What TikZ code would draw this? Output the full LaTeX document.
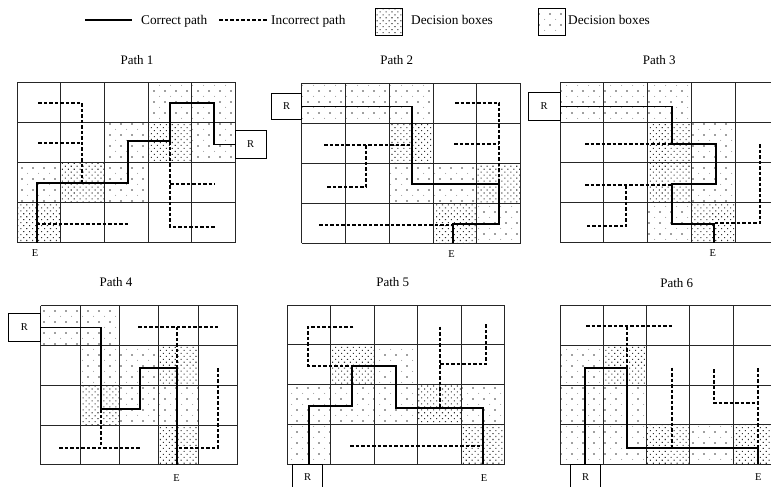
\documentclass[tikz,border=0pt]{standalone}
\usepackage{fontspec}
\setmainfont{Liberation Serif}
\usetikzlibrary{patterns,patterns.meta}
\tikzset{
  gridline/.style={draw=black!85,line width=1pt},
  sparse/.style={pattern={Dots[distance=11pt,radius=0.8pt]},pattern color=black!75,
    postaction={pattern={Dots[distance=11pt,radius=0.5pt,xshift=5.5pt,yshift=5.5pt]},pattern color=black!40}},
  dense/.style={pattern={Dots[distance=4.2pt,radius=0.75pt,angle=45]},pattern color=black!80},
  correct/.style={line width=1.8pt},
  wrong/.style={line width=1.7pt,dash pattern=on 3.5pt off 2pt},
  lbl/.style={font=\fontsize{10.5}{12}\selectfont,inner sep=0pt},
  ttl/.style={font=\fontsize{13}{15}\selectfont,inner sep=0pt},
  leg/.style={font=\fontsize{13.3}{15}\selectfont,inner sep=0pt},
  rbox/.style={draw,fill=white,line width=1pt,inner sep=0pt,font=\fontsize{10.5}{12}\selectfont},
}
\begin{document}
\begin{tikzpicture}[x=1pt,y=-1pt]
\useasboundingbox (0,0) rectangle (771,487);
\fill[white] (0,0) rectangle (771,487);
\clip (0,0) rectangle (771,487);

% ---------- legend ----------
\draw[correct] (85,20) -- (132,20);
\node[leg,anchor=base west] (lc) at (141,25) {Correct path};
\draw[wrong] (219.3,20) -- (266.7,20);
\node[leg,anchor=base west] (li) at (271,25) {Incorrect path};
\fill[dense] (375,8.3) rectangle (402.7,35);
\draw[line width=0.8pt] (375,8.3) rectangle (402.7,35);
\node[leg,anchor=base west] (ld) at (411,25) {Decision boxes};
\fill[sparse] (538.3,8.3) rectangle (565,35);
\draw[line width=0.8pt] (538.3,8.3) rectangle (565,35);
\node[leg,anchor=base west] (ls) at (568,25) {Decision boxes};

% ---------- Path 1 ----------
\node[ttl,anchor=base] (t1) at (137,64.5) {Path 1};
\begin{scope}[shift={(17.3,82.3)},x=43.6pt,y=-40.1pt]
  \foreach \c/\r in {3/0,4/0,2/1,4/1,0/2,2/2} \fill[sparse] (\c,\r) rectangle ++(1,1);
  \foreach \c/\r in {3/1,1/2,0/3} \fill[dense] (\c,\r) rectangle ++(1,1);
  \foreach \i in {0,...,5} \draw[gridline] (\i,0) -- (\i,4);
  \foreach \j in {0,...,4} \draw[gridline] (0,\j) -- (5,\j);
\end{scope}
\node[rbox,minimum width=30.7pt,minimum height=27.3pt] (R1) at (250.7,144.5) {R};
\draw[wrong] (38.3,102.7) -- (81.7,102.7) -- (81.7,183.3);
\draw[wrong] (38.3,142.7) -- (81.7,142.7);
\draw[wrong] (36.7,224) -- (130,224);
\draw[wrong] (170,141.3) -- (170,226.7) -- (215,226.7);
\draw[wrong] (170,184) -- (215,184);
\draw[correct] (R1.west) -- (214.3,144.5) -- (214.3,102.7) -- (170,102.7) -- (170,141.3)
  -- (128.3,141.3) -- (128.3,183.3) -- (36.7,183.3) -- (36.7,242.7);
\node[lbl,anchor=base] (E1) at (35,256.5) {E};

% ---------- Path 2 ----------
\node[ttl,anchor=base] (t2) at (396.7,65) {Path 2};
\begin{scope}[shift={(301.7,83.3)},x=43.8pt,y=-40pt]
  \foreach \c/\r in {0/0,1/0,2/0,2/2,3/2,4/3} \fill[sparse] (\c,\r) rectangle ++(1,1);
  \foreach \c/\r in {2/1,4/2,3/3} \fill[dense] (\c,\r) rectangle ++(1,1);
  \foreach \i in {0,...,5} \draw[gridline] (\i,0) -- (\i,4);
  \foreach \j in {0,...,4} \draw[gridline] (0,\j) -- (5,\j);
\end{scope}
\node[rbox,minimum width=30pt,minimum height=26.7pt] (R2) at (286.7,106.5) {R};
\draw[wrong] (324.3,145) -- (411.7,145);
\draw[wrong] (366,145) -- (366,186.7) -- (326.7,186.7);
\draw[wrong] (319.3,225) -- (453.3,225);
\draw[wrong] (455,102.7) -- (499.3,102.7) -- (499.3,184.3);
\draw[wrong] (454.3,144) -- (499.3,144);
\draw[correct] (R2.east) -- (411.7,106.5) -- (411.7,184.3) -- (499.3,184.3) -- (499.3,224)
  -- (453.3,224) -- (453.3,243.3);
\node[lbl,anchor=base] (E2) at (451.7,257.3) {E};

% ---------- Path 3 ----------
\node[ttl,anchor=base] (t3) at (659.3,65) {Path 3};
\begin{scope}[shift={(560,82.3)},x=43.75pt,y=-40.1pt]
  \foreach \c/\r in {0/0,1/0,2/0,3/1,3/2,2/3} \fill[sparse] (\c,\r) rectangle ++(1,1);
  \foreach \c/\r in {2/1,2/2,3/3} \fill[dense] (\c,\r) rectangle ++(1,1);
  \foreach \i in {0,...,5} \draw[gridline] (\i,0) -- (\i,4);
  \foreach \j in {0,...,4} \draw[gridline] (0,\j) -- (5,\j);
\end{scope}
\node[rbox,minimum width=31.7pt,minimum height=27.3pt] (R3) at (544.2,106.5) {R};
\draw[wrong] (585,144) -- (671.7,144);
\draw[wrong] (585,185) -- (671.7,185);
\draw[wrong] (626,185) -- (626,226) -- (586.7,226);
\draw[wrong] (760,144) -- (760,223.3) -- (714.3,223.3);
\draw[correct] (R3.east) -- (671.7,106.5) -- (671.7,144) -- (716,144) -- (716,184.3)
  -- (671.7,184.3) -- (671.7,224) -- (714.3,224) -- (714.3,242.7);
\node[lbl,anchor=base] (E3) at (712.7,256.7) {E};

% ---------- Path 4 ----------
\node[ttl,anchor=base] (t4) at (116,286.5) {Path 4};
\begin{scope}[shift={(40.7,305.7)},x=39.4pt,y=-39.8pt]
  \foreach \c/\r in {0/0,1/0,1/1,2/1,2/2,3/2} \fill[sparse] (\c,\r) rectangle ++(1,1);
  \foreach \c/\r in {3/1,1/2,3/3} \fill[dense] (\c,\r) rectangle ++(1,1);
  \foreach \i in {0,...,5} \draw[gridline] (\i,0) -- (\i,4);
  \foreach \j in {0,...,4} \draw[gridline] (0,\j) -- (5,\j);
\end{scope}
\node[rbox,minimum width=32.4pt,minimum height=28.4pt] (R4) at (24.5,327.5) {R};
\draw[wrong] (138.3,326.7) -- (217.7,326.7);
\draw[wrong] (176.7,326.7) -- (176.7,368.3);
\draw[wrong] (100.7,409) -- (100.7,445);
\draw[wrong] (59.3,447.7) -- (140,447.7);
\draw[wrong] (218.3,368.3) -- (218.3,447.7) -- (176.7,447.7);
\draw[correct] (R4.east) -- (100.7,327.5) -- (100.7,409) -- (140,409) -- (140,368.3)
  -- (176.7,368.3) -- (176.7,465);
\node[lbl,anchor=base] (E4) at (176.7,481) {E};

% ---------- Path 5 ----------
\node[ttl,anchor=base] (t5) at (392.7,286.5) {Path 5};
\begin{scope}[shift={(287.3,305)},x=43.5pt,y=-39.8pt]
  \foreach \c/\r in {2/1,0/2,1/2,2/2,4/2,0/3} \fill[sparse] (\c,\r) rectangle ++(1,1);
  \foreach \c/\r in {1/1,3/2,4/3} \fill[dense] (\c,\r) rectangle ++(1,1);
  \foreach \i in {0,...,5} \draw[gridline] (\i,0) -- (\i,4);
  \foreach \j in {0,...,4} \draw[gridline] (0,\j) -- (5,\j);
\end{scope}
\node[rbox,minimum width=30pt,minimum height=25pt] (R5) at (307.7,476.8) {R};
\draw[wrong] (353.3,326.7) -- (308.3,326.7) -- (308.3,365.7) -- (351.7,365.7);
\draw[wrong] (440,326.7) -- (440,407.7);
\draw[wrong] (440,364.3) -- (486,364.3) -- (486,323.3);
\draw[wrong] (350,445.7) -- (482.7,445.7);
\draw[correct] (309.3,464.3) -- (309.3,405.7) -- (351.7,405.7) -- (351.7,365.7) -- (396,365.7)
  -- (396,407.7) -- (482.7,407.7) -- (482.7,464.3);
\node[lbl,anchor=base] (E5) at (484,481) {E};

% ---------- Path 6 ----------
\node[ttl,anchor=base] (t6) at (676.7,287) {Path 6};
\begin{scope}[shift={(560,305.7)},x=43.3pt,y=-39.65pt]
  \foreach \c/\r in {0/1,0/2,1/2,0/3,1/3,3/3} \fill[sparse] (\c,\r) rectangle ++(1,1);
  \foreach \c/\r in {1/1,2/3,4/3} \fill[dense] (\c,\r) rectangle ++(1,1);
  \foreach \i in {0,...,5} \draw[gridline] (\i,0) -- (\i,4);
  \foreach \j in {0,...,4} \draw[gridline] (0,\j) -- (5,\j);
\end{scope}
\node[rbox,minimum width=30pt,minimum height=25pt] (R6) at (585.7,476.8) {R};
\draw[wrong] (586,326) -- (673.3,326);
\draw[wrong] (627.3,326) -- (627.3,367.7);
\draw[wrong] (671.7,367.7) -- (671.7,447.7);
\draw[wrong] (714.3,369) -- (714.3,403.3) -- (758.3,403.3);
\draw[wrong] (758.3,368.3) -- (758.3,447.7);
\draw[correct] (585,464.3) -- (585,367.7) -- (627.3,367.7) -- (627.3,447.7) -- (758.3,447.7)
  -- (758.3,464.3);
\node[lbl,anchor=base] (E6) at (758.3,480) {E};
\end{tikzpicture}
\end{document}
